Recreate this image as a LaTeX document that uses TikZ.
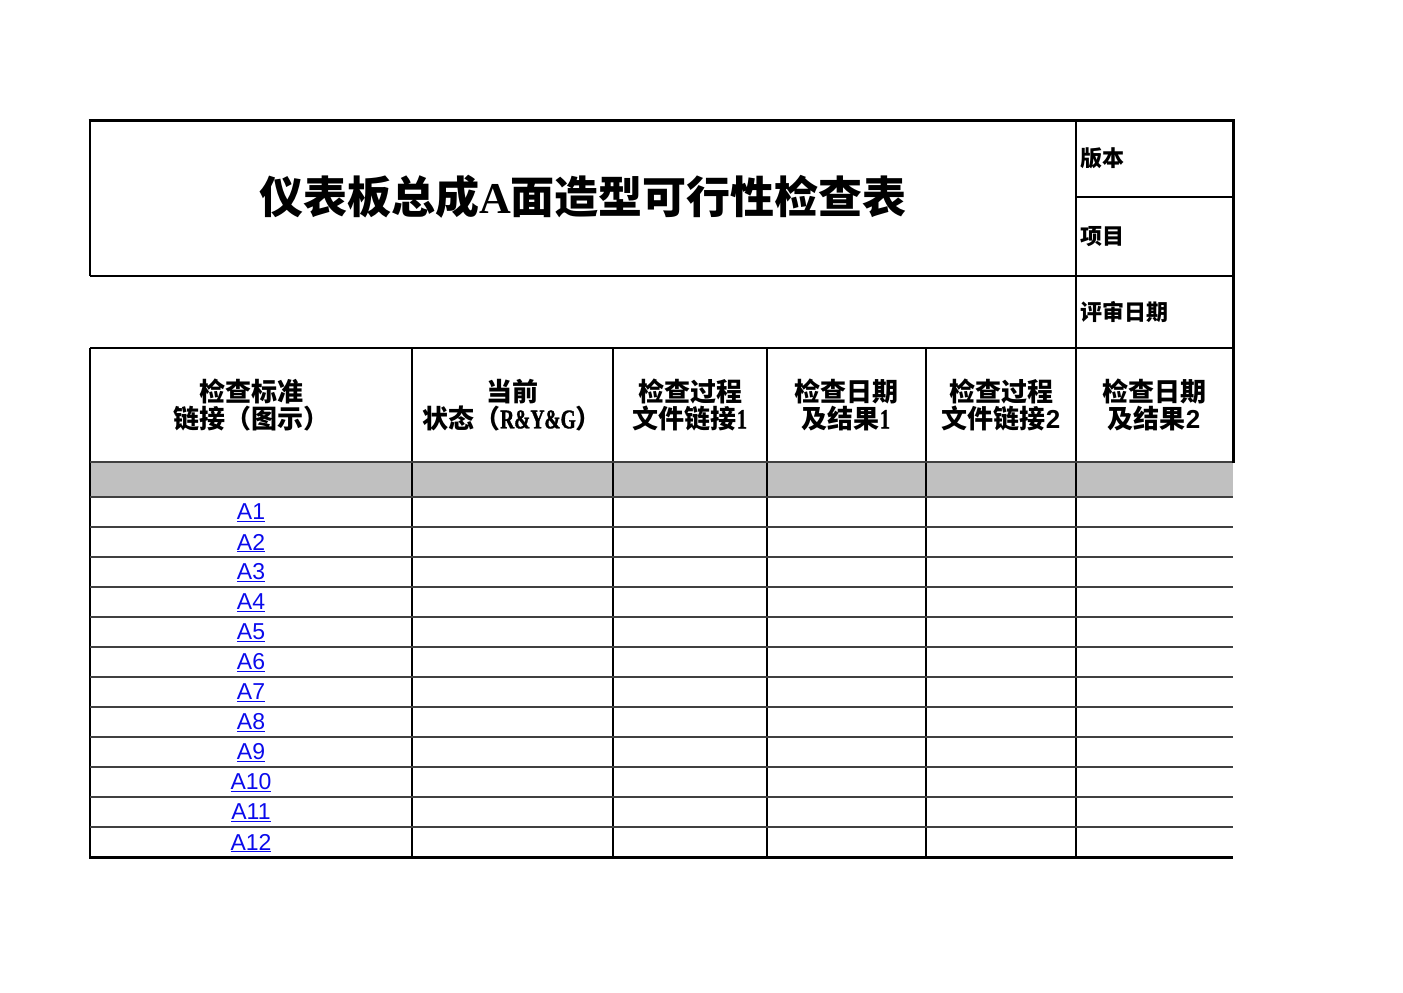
\documentclass[tikz,border=0pt]{standalone}
\usepackage{fontspec}
\setmainfont{Liberation Sans}
\newfontfamily\cjk{Noto Sans CJK SC}
\newfontfamily\tserif{Liberation Serif}
\newfontfamily\nserif[FakeStretch=0.72,FakeBold=1.2]{Liberation Serif}
\newfontfamily\asans{Liberation Sans}
\definecolor{linkblue}{RGB}{10,10,235}
\definecolor{rowgray}{RGB}{192,192,192}
\definecolor{hgray}{RGB}{64,64,64}
\tikzset{
  thickln/.style={line width=3bp, black},
  vln/.style={line width=2bp, black},
  hln/.style={line width=2.2bp, hgray},
  hdr/.style={align=center, inner sep=0pt, font=\cjk\bfseries\fontsize{26bp}{27bp}\selectfont},
  lbl/.style={anchor=west, inner sep=0pt, font=\cjk\fontsize{22bp}{24bp}\selectfont},
  lnk/.style={inner sep=0pt, text=linkblue, font=\asans\fontsize{23bp}{25bp}\selectfont},
}
\begin{document}
\begin{tikzpicture}[x=1bp,y=-1bp]
\useasboundingbox (0,0) rectangle (1403,992);
% gray row
\fill[rowgray] (90,462) rectangle (1233,497);
% title box
\draw[vln] (90,120) -- (90,276);
\draw[vln] (90,276) -- (1233,276);
\draw[vln] (1076,197) -- (1233,197);
\draw[vln] (90,348) -- (1233,348);
% verticals
\draw[vln] (1076,120) -- (1076,857);
\foreach \x in {90,412,613,767,926} \draw[vln] (\x,348) -- (\x,857);
% horizontal rows
\foreach \y in {462,497,527,557,587,617,647,677,707,737,767,797,827} \draw[hln] (90,\y) -- (1233,\y);
\draw[thickln] (89,857) -- (1233,857);
\draw[thickln] (88.5,120) -- (1234.5,120);
\draw[thickln] (1233,120) -- (1233,463);
% title
\node[inner sep=0pt, font=\cjk\bfseries\fontsize{44bp}{48bp}\selectfont] (title) at (583,197) {仪表板总成{\tserif\bfseries A}面造型可行性检查表};
% right labels
\node[lbl] (ver) at (1080,158) {\bfseries 版本};
\node[lbl] (proj) at (1080,237) {\bfseries 项目};
\node[lbl] (rdate) at (1080,312) {\bfseries 评审日期};
% headers
\node[hdr] (h1) at (251,405) {检查标准\\链接（图示）};
\node[hdr] (h2) at (512,405) {当前\\状态（{\nserif\fontsize{27bp}{27bp}\selectfont R\&Y\&G}）};
\node[hdr] (h3) at (690,405) {检查过程\\文件链接{\nserif\fontsize{28bp}{27bp}\selectfont 1}};
\node[hdr] (h4) at (846,405) {检查日期\\及结果{\nserif\fontsize{28bp}{27bp}\selectfont 1}};
\node[hdr] (h5) at (1001,405) {检查过程\\文件链接{\asans\bfseries 2}};
\node[hdr] (h6) at (1154,405) {检查日期\\及结果{\asans\bfseries 2}};
% links
\foreach \i in {1,...,12} {
  \pgfmathsetmacro{\yy}{497+30*(\i-1)+16}
  \node[lnk] (a\i) at (251,\yy) {\underline{A\i}};
}
\end{tikzpicture}
\end{document}
